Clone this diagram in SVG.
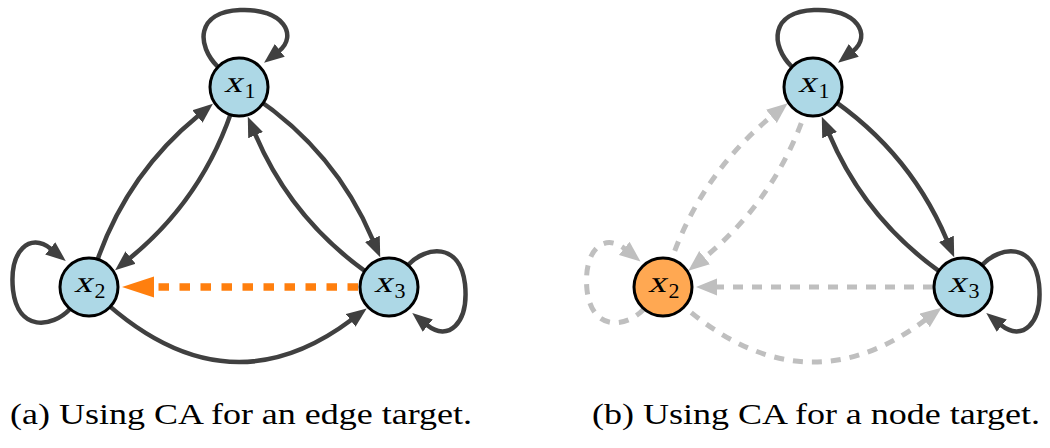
<svg xmlns="http://www.w3.org/2000/svg" width="1050" height="448" viewBox="0 0 1050 448">
<style>
.node{fill:#add8e6;stroke:#000;stroke-width:3}
.node-hl{fill:#ffa852;stroke:#000;stroke-width:3}
.e{fill:none;stroke:#404040;stroke-width:4.5;marker-end:url(#ah-dark)}
.eg{fill:none;stroke:#bfbfbf;stroke-width:5;stroke-dasharray:10 9;marker-end:url(#ah-gray)}
.eo{fill:none;stroke:#ff7f0e;stroke-width:7.5;stroke-dasharray:10.5 10.5;marker-end:url(#ah-orange)}
.lbl{font-family:'Liberation Serif', serif;font-size:30px;fill:#000}
.sub{font-family:'Liberation Serif', serif;font-size:22px;fill:#000}
.cap{font-family:'Liberation Serif', serif;font-size:30px;fill:#000}
</style>
<defs>
<marker id="ah-dark" markerUnits="userSpaceOnUse" viewBox="0 -9 22 18" markerWidth="22" markerHeight="18" refX="1" refY="0" orient="auto"><path d="M0,-8 L20,0 L0,8 z" fill="#404040"/></marker>
<marker id="ah-gray" markerUnits="userSpaceOnUse" viewBox="0 -9 23 18" markerWidth="23" markerHeight="18" refX="1" refY="0" orient="auto"><path d="M0,-8.5 L21,0 L0,8.5 z" fill="#bfbfbf"/></marker>
<marker id="ah-orange" markerUnits="userSpaceOnUse" viewBox="0 -12 34 24" markerWidth="34" markerHeight="24" refX="1" refY="0" orient="auto"><path d="M0,-10.5 L32,0 L0,10.5 z" fill="#ff7f0e"/></marker>
</defs>

<g id="panel-a">
 <g id="a-connectors">
  <path class="e" d="M218,67 C196,45 196,12 240,10 C284,8 298,36 279,51"/>
  <path class="e" d="M70,309 C52,328 18,332 13,290 C9,250 30,232 51,249"/>
  <path class="e" d="M408,265 C426,246 460,242 465,284 C469,324 448,342 427,325"/>
  <path class="e" d="M89,287 Q117.4,181.7 198.2,115.8"/>
  <path class="e" d="M239,87 Q210.7,192.3 129.8,258.2"/>
  <path class="e" d="M239,87 Q332.2,143.7 372.8,239.8"/>
  <path class="e" d="M389,287 Q295.9,230.3 255.2,134.2"/>
  <path class="e" d="M89,287 Q220.3,418.3 351.5,319.8"/>
  <path class="eo" d="M358,287 L153,287"/>
 </g>
 <g id="a-x1"><circle class="node" cx="239" cy="87" r="29"/><g transform="translate(233,92) skewX(-14) scale(1.2,1)"><text class="lbl" x="0" y="0" text-anchor="middle">x</text></g><text class="sub" x="250" y="98" text-anchor="middle">1</text></g>
 <g id="a-x2"><circle class="node" cx="89" cy="287" r="29"/><g transform="translate(83,292) skewX(-14) scale(1.2,1)"><text class="lbl" x="0" y="0" text-anchor="middle">x</text></g><text class="sub" x="100" y="298" text-anchor="middle">2</text></g>
 <g id="a-x3"><circle class="node" cx="389" cy="287" r="29"/><g transform="translate(383,292) skewX(-14) scale(1.2,1)"><text class="lbl" x="0" y="0" text-anchor="middle">x</text></g><text class="sub" x="400" y="298" text-anchor="middle">3</text></g>
</g>

<g id="panel-b" transform="translate(574,0)">
 <g id="b-connectors">
  <path class="eg" d="M70,309 C52,328 18,332 13,290 C9,250 30,232 51,249"/>
  <path class="eg" d="M89,287 Q117.4,181.7 198.2,115.8"/>
  <path class="eg" d="M239,87 Q210.7,192.3 129.8,258.2"/>
  <path class="eg" d="M89,287 Q220.3,418.3 351.5,319.8"/>
  <path class="eg" d="M359,287 L142,287"/>
  <path class="e" d="M218,67 C196,45 196,12 240,10 C284,8 298,36 279,51"/>
  <path class="e" d="M408,265 C426,246 460,242 465,284 C469,324 448,342 427,325"/>
  <path class="e" d="M239,87 Q332.2,143.7 372.8,239.8"/>
  <path class="e" d="M389,287 Q295.9,230.3 255.2,134.2"/>
 </g>
 <g id="b-x1"><circle class="node" cx="239" cy="87" r="29"/><g transform="translate(233,92) skewX(-14) scale(1.2,1)"><text class="lbl" x="0" y="0" text-anchor="middle">x</text></g><text class="sub" x="250" y="98" text-anchor="middle">1</text></g>
 <g id="b-x2"><circle class="node-hl" cx="89" cy="287" r="29"/><g transform="translate(83,292) skewX(-14) scale(1.2,1)"><text class="lbl" x="0" y="0" text-anchor="middle">x</text></g><text class="sub" x="100" y="298" text-anchor="middle">2</text></g>
 <g id="b-x3"><circle class="node" cx="389" cy="287" r="29"/><g transform="translate(383,292) skewX(-14) scale(1.2,1)"><text class="lbl" x="0" y="0" text-anchor="middle">x</text></g><text class="sub" x="400" y="298" text-anchor="middle">3</text></g>
</g>

<g id="captions">
 <g transform="translate(241,424) scale(1.2,1)"><text class="cap" x="0" y="0" text-anchor="middle">(a) Using CA for an edge target.</text></g>
 <g transform="translate(816,424) scale(1.2,1)"><text class="cap" x="0" y="0" text-anchor="middle">(b) Using CA for a node target.</text></g>
</g>
</svg>
